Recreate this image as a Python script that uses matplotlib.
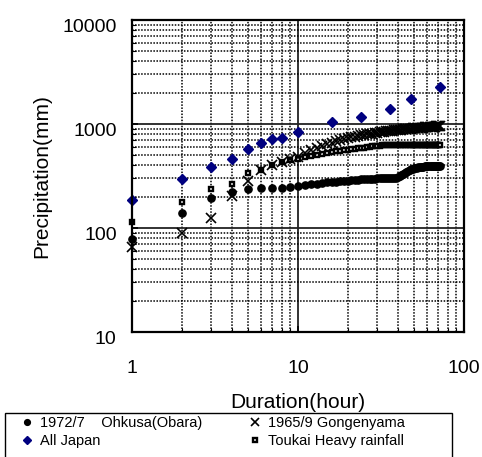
#!/usr/bin/env python

import numpy as np
from matplotlib import pyplot as plt
from matplotlib import ticker
from matplotlib.patches import Rectangle
import matplotlib.transforms as mtransforms

plt.rcParams["font.family"] = ["Liberation Sans", "DejaVu Sans"]

# depth-duration data, hours 1..72
hours = np.arange(1, 73)

ohkusa = [78, 140, 193, 220, 237, 241, 242, 243, 248, 252,
          258, 263, 267, 271, 275, 277, 279, 281, 283, 285,
          287, 289, 291, 293, 295, 296, 297, 298, 299, 300,
          300, 301, 301, 302, 302, 303, 303, 304, 305, 308,
          314, 322, 331, 340, 348, 355, 361, 366, 370, 374,
          377, 380, 383, 385, 387, 389, 390, 391, 392, 393,
          394, 394, 395, 395, 396, 396, 396, 397, 397, 397,
          397, 397]

gongenyama = [66, 90, 124, 205, 285, 361, 404, 434, 457, 485,
              522, 560, 588, 614, 638, 660, 680, 698, 715, 730,
              744, 756, 767, 777, 786, 794, 802, 810, 817, 824,
              830, 836, 842, 848, 853, 858, 863, 868, 872, 876,
              880, 884, 888, 891, 894, 897, 900, 903, 906, 909,
              912, 915, 917, 919, 921, 923, 925, 927, 929, 931,
              933, 935, 937, 939, 941, 943, 945, 947, 949, 951,
              953, 956]

toukai = [114, 179, 237, 265, 336, 361, 400, 428, 448, 465,
          480, 495, 507, 518, 528, 537, 545, 553, 560, 566,
          572, 578, 584, 589, 594, 599, 604, 609, 613, 617,
          620, 623, 625, 627, 628, 630, 630, 630, 630, 630,
          630, 630, 630, 630, 630, 630, 630, 630, 630, 630,
          630, 630, 630, 630, 630, 630, 630, 630, 630, 630,
          630, 630, 630, 630, 630, 630, 630, 630, 630, 630,
          630, 630]

japan_hours = [1, 2, 3, 4, 5, 6, 7, 8, 10, 16, 24, 36, 48, 72]
all_japan = [187, 296, 386, 460, 580, 660, 710, 740, 840, 1040, 1170, 1390, 1740, 2270]

fig = plt.figure(figsize=(4.82, 4.57), dpi=100)
ax = fig.add_axes([132 / 482, 1 - 332 / 457, (464 - 132) / 482, (332 - 20) / 457])

ax.set_xscale('log')
ax.set_yscale('log')
ax.set_xlim(1, 100)
ax.set_ylim(10, 10000)

ax.grid(which='minor', color='black', linestyle=(0, (1, 1)), linewidth=1.1)
ax.grid(which='major', color='#222222', linestyle='-', linewidth=1.3)

h_ohk, = ax.plot(hours, ohkusa, 'o', color='black', markersize=5.2, clip_on=False)
h_tou, = ax.plot(hours, toukai, 's', markerfacecolor='white', markeredgecolor='black',
                 markeredgewidth=1.7, markersize=3.5, clip_on=False)
h_gon, = ax.plot(hours, gongenyama, 'x', color='black', markersize=7.5, markeredgewidth=1.2,
                 clip_on=False)
h_jap, = ax.plot(japan_hours, all_japan, 'D', color='#000080', markersize=5, clip_on=False)

ax.xaxis.set_major_locator(ticker.FixedLocator([1, 10, 100]))
ax.yaxis.set_major_locator(ticker.FixedLocator([10, 100, 1000, 10000]))
ax.xaxis.set_major_formatter(ticker.FuncFormatter(lambda v, p: '%g' % v))
ax.yaxis.set_major_formatter(ticker.FuncFormatter(lambda v, p: '%g' % v))
ax.xaxis.set_minor_locator(ticker.LogLocator(base=10, subs=np.arange(2, 10)))
ax.yaxis.set_minor_locator(ticker.LogLocator(base=10, subs=np.arange(2, 10)))
ax.xaxis.set_minor_formatter(ticker.NullFormatter())
ax.yaxis.set_minor_formatter(ticker.NullFormatter())

ax.tick_params(which='both', direction='in', labelsize=14)
ax.tick_params(which='major', length=4, width=1.2)
ax.tick_params(which='minor', length=3, width=0.8)
ax.tick_params(axis='x', which='major', pad=20)
ax.tick_params(axis='y', which='major', pad=11)

for s in ax.spines.values():
    s.set_linewidth(1.6)
    s.set_color('black')

offset = mtransforms.ScaledTranslation(0, -4 / 72, fig.dpi_scale_trans)
for lab in ax.get_yticklabels():
    lab.set_transform(lab.get_transform() + offset)

ax.set_xlabel('Duration(hour)', fontsize=15, labelpad=12)
ax.set_ylabel('Precipitation(mm)', fontsize=15, labelpad=8)

# legend box runs off the bottom edge of the picture
fig.add_artist(Rectangle((5 / 482, -0.05), 447 / 482, 0.05 + 1 - 413 / 457,
                         transform=fig.transFigure, fill=False, edgecolor='black', linewidth=1.0))

leg = fig.legend([h_ohk, h_jap, h_gon, h_tou],
                 ['1972/7    Ohkusa(Obara)', 'All Japan', '1965/9 Gongenyama', 'Toukai Heavy rainfall'],
                 ncol=2, loc='upper left', bbox_to_anchor=(20 / 482, 1 - 413 / 457),
                 fontsize=10.5, frameon=False, handlelength=0.6, handletextpad=0.6,
                 borderpad=0.2, borderaxespad=0, labelspacing=0.3, columnspacing=3.3,
                 markerscale=0.8)

fig.savefig('out.png', dpi=100)
